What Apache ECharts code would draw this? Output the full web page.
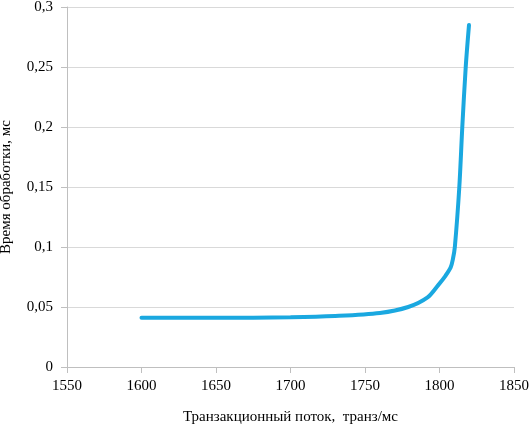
<!DOCTYPE html>
<html>
<head>
<meta charset="utf-8">
<script src="https://cdn.jsdelivr.net/npm/echarts@6/dist/echarts.min.js"></script>
<style>
  html, body { margin: 0; padding: 0; background: #fff; }
  #chart { width: 529px; height: 425px; }
</style>
</head>
<body>
<div id="chart"></div>
<script>
// поток, транз/мс
const flow = [1600, 1650, 1700, 1730, 1760, 1779, 1792, 1799, 1804, 1807.5, 1809, 1810.3, 1813.3, 1815.3, 1817.6, 1819.8]
// время обработки, мс
const procTime = [0.041, 0.041, 0.0415, 0.0425, 0.045, 0.05, 0.058, 0.068, 0.076, 0.083, 0.09, 0.1, 0.15, 0.2, 0.25, 0.285]

const points = flow.map((x, i) => [x, procTime[i]])

const chart = echarts.init(document.getElementById('chart'))
const font = '"Liberation Serif", "Times New Roman", serif'
const fmt = v => String(v).replace('.', ',')

// стиль подписей делений через rich
const tickRich = {
  t: { fontFamily: font, fontSize: 15, color: '#000' }
}

chart.setOption({
  animation: false,
  textStyle: { fontFamily: font, fontSize: 15 },
  grid: { left: 67, right: 15, top: 7, bottom: 58, outerBoundsMode: 'none' },
  xAxis: {
    type: 'value',
    min: 1550,
    max: 1850,
    interval: 50,
    name: 'Транзакционный поток,  транз/мс',
    nameLocation: 'middle',
    nameGap: 43,
    nameTextStyle: { fontFamily: font, fontSize: 15, color: '#000' },
    axisLine: { show: true, lineStyle: { color: '#bfbfbf' } },
    axisTick: { show: true, length: 6, lineStyle: { color: '#bfbfbf' } },
    axisLabel: { margin: 12, formatter: v => '{t|' + v + '}', rich: tickRich },
    splitLine: { show: false }
  },
  yAxis: {
    type: 'value',
    min: 0,
    max: 0.3,
    interval: 0.05,
    name: 'Время обработки, мс',
    nameLocation: 'middle',
    nameGap: 53,
    nameTextStyle: { fontFamily: font, fontSize: 15, color: '#000' },
    axisLine: { show: true, lineStyle: { color: '#bfbfbf' } },
    axisTick: { show: true, length: 6, lineStyle: { color: '#bfbfbf' } },
    axisLabel: { margin: 14, formatter: v => '{t|' + fmt(+v.toFixed(2)) + '}', rich: tickRich },
    splitLine: { show: true, lineStyle: { color: '#d9d9d9' } }
  },
  series: [
    {
      type: 'line',
      data: points,
      smooth: 0.3,
      showSymbol: false,
      lineStyle: { color: '#1aa8e0', width: 4, cap: 'round' }
    }
  ]
})
</script>
</body>
</html>
